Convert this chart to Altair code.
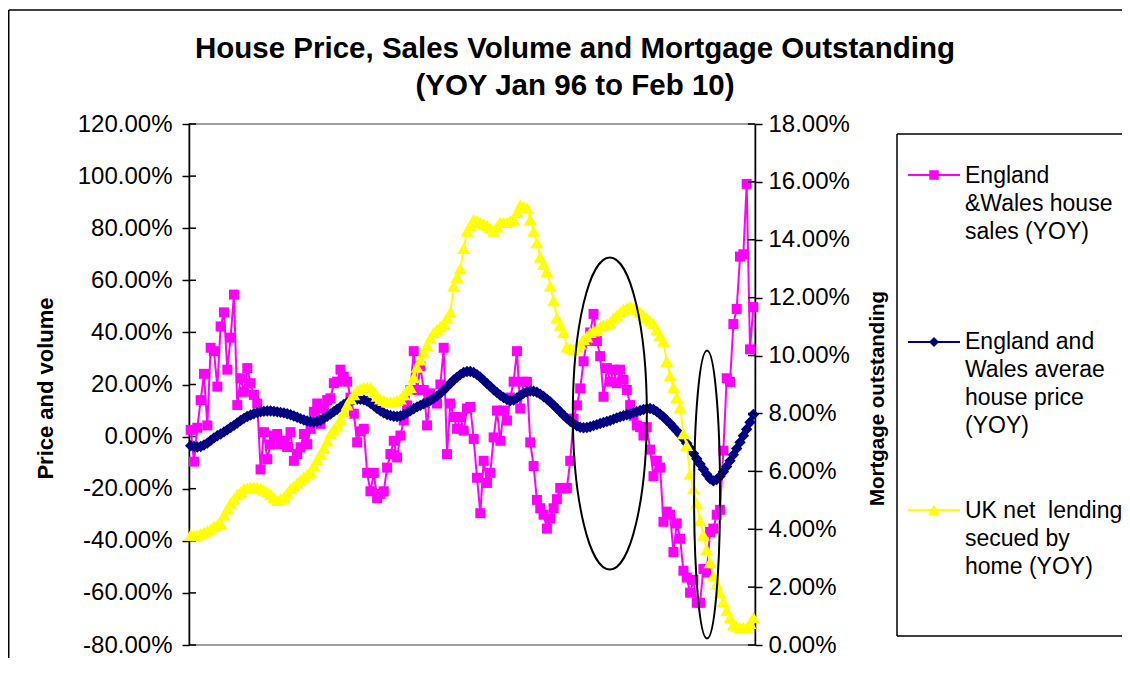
import altair as alt
import pandas as pd

# ---------------- data (% values) ----------------
SALES = [
    2.6, -9.6, 3.4, 14, 24.1, 4.3, 34.1, 32.8, 19.2, 42.3,
    47.7, 25.7, 38, 54.5, 12.1, 22.4, 17.2, 26.3, 20.5, 16,
    12.7, -12.6, 1.7, -8.7, -3, 0.4, 1.0, -2.9, -1.6, -4,
    1.7, -9.3, -6.7, -4.1, 1.0, -2.9, 3, 9.5, 12.7, 4.9,
    10.8, 14, 14.7, 20.5, 21.1, 25.7, 23, 21.1, 15, 8.8,
    -2.2, 2, 3, -13.9, -21, -13.9, -23.6, -22, -21, -11.9,
    -6.7, -1.6, -8, 0.4, 6.2, 12, 17.9, 32.8, 17.9, 27,
    17.9, 4.3, 16.6, 14, 12.7, 20, 34.1, -6.7, 12.7, 7.5,
    3, 7.5, 2.3, 10.8, 11.4, -0.9, -15.8, -29.4, -9.3, -17.8,
    -13.9, -0.3, 10, -1.6, 10, 6.2, 15, 21.1, 32.8, 10.8,
    21.1, 21, -2.2, -11.3, -24.3, -27.5, -30, -35.3, -31.4, -27.5,
    -24, -19.7, -20, -19.7, -9.3, 6.9, 12, 18.5, 28.9, 36.7,
    40, 47.1, 36.7, 30.9, 15.3, 26.3, 21.1, 25.7, 20.5, 25.7,
    21.8, 17.9, 12.1, 8, 4.3, 3.6, 0.4, 3.6, -5, -15.2,
    -9.3, -11.9, -32.7, -28.8, -30, -44.3, -33.3, -39.2, -51.5, -54.1,
    -59.9, -55, -63.8, -63.8, -50.8, -52.1, -36.6, -35.3, -30, -28.1,
    -5.4, 22.4, 21, 43.2, 49, 69.1, 70, 97, 33.5, 49.7,
]

PRICE = [
    -3.5, -3.8, -4.0, -3.8, -3.2, -2.5, -1.5, -0.5, 0.3, 1.0,
    1.8, 2.6, 3.5, 4.3, 5.2, 6.2, 7.0, 7.7, 8.3, 8.8,
    9.2, 9.5, 9.7, 9.8, 9.8, 9.7, 9.5, 9.3, 9.1, 8.8,
    8.4, 7.9, 7.4, 6.9, 6.4, 6.0, 5.7, 5.6, 5.8, 6.3,
    7.0, 7.8, 8.7, 9.6, 10.5, 11.4, 12.3, 13.1, 13.7, 14.1,
    14.3, 14.3, 14.1, 13.6, 12.8, 11.8, 10.8, 9.9, 9.1, 8.5,
    8.1, 7.8, 7.7, 7.9, 8.4, 9.1, 9.9, 10.7, 11.4, 12.0,
    12.6, 13.2, 13.9, 14.7, 15.6, 16.6, 17.8, 19.1, 20.4, 21.7,
    22.8, 23.8, 24.6, 25.0, 25.0, 24.6, 23.8, 22.8, 21.6, 20.4,
    19.2, 18.0, 16.9, 15.9, 15.0, 14.2, 13.8, 14.0, 14.8, 15.8,
    16.6, 17.2, 17.5, 17.4, 17.0, 16.3, 15.4, 14.4, 13.3, 12.1,
    10.8, 9.5, 8.2, 7.0, 5.9, 4.9, 4.1, 3.6, 3.4, 3.5,
    3.8, 4.2, 4.6, 5.0, 5.4, 5.8, 6.2, 6.7, 7.2, 7.6,
    8.0, 8.4, 8.8, 9.2, 9.6, 10.0, 10.4, 10.7, 10.8, 10.4,
    9.6, 8.6, 7.5, 6.3, 5.0, 3.6, 2.2, 0.8, -0.8, -2.6,
    -4.5, -6.5, -8.5, -10.5, -12.5, -14.5, -16.2, -17.0, -16.5, -15.2,
    -13.5, -11.5, -9.3, -7.0, -4.6, -2.2, 0.3, 2.8, 5.5, 8.5,
]

LENDING = [
    3.8, 3.8, 3.8, 3.85, 3.9, 3.95, 4.0, 4.1, 4.15, 4.2,
    4.5, 4.7, 4.9, 5.05, 5.2, 5.3, 5.4, 5.42, 5.45, 5.45,
    5.45, 5.4, 5.35, 5.3, 5.2, 5.1, 5.0, 5.05, 5.1, 5.25,
    5.4, 5.5, 5.6, 5.7, 5.8, 5.9, 6.0, 6.2, 6.4, 6.6,
    6.8, 7.05, 7.3, 7.45, 7.6, 7.8, 8.05, 8.3, 8.5, 8.65,
    8.8, 8.85, 8.9, 8.9, 8.9, 8.75, 8.6, 8.5, 8.45, 8.4,
    8.4, 8.4, 8.45, 8.5, 8.65, 8.8, 8.9, 9.25, 9.6, 9.85,
    10.1, 10.35, 10.6, 10.8, 10.9, 11.0, 11.1, 11.3, 11.5, 12.4,
    12.7, 13.0, 13.7, 14.3, 14.5, 14.7, 14.65, 14.6, 14.55, 14.5,
    14.4, 14.3, 14.45, 14.6, 14.6, 14.6, 14.65, 14.7, 14.95, 15.2,
    15.15, 15.1, 14.7, 14.3, 13.9, 13.4, 13.15, 12.9, 12.4, 11.9,
    11.3, 11.05, 10.8, 10.3, 10.25, 10.2, 10.3, 10.4, 10.55, 10.65,
    10.8, 10.85, 10.9, 11.0, 11.05, 11.1, 11.15, 11.3, 11.4, 11.5,
    11.6, 11.65, 11.7, 11.65, 11.6, 11.5, 11.4, 11.3, 11.2, 11.1,
    10.9, 10.7, 10.5, 9.8, 9.3, 8.9, 8.55, 8.2, 7.3, 6.9,
    5.9, 5.4, 4.9, 4.3, 3.8, 3.3, 2.85, 2.4, 2.1, 1.8,
    1.5, 1.2, 0.95, 0.7, 0.65, 0.6, 0.6, 0.6, 0.75, 0.95,
]

LEFT_TICKS = [-80, -60, -40, -20, 0, 20, 40, 60, 80, 100, 120]
RIGHT_TICKS = [0, 2, 4, 6, 8, 10, 12, 14, 16, 18]

TITLE = "House Price, Sales Volume and Mortgage Outstanding\n(YOY Jan 96 to Feb 10)"
LEFT_TITLE = "Price and volume"
RIGHT_TITLE = "Mortgage outstanding"
LEGEND_TEXT = [
    "England\n&Wales house\nsales (YOY)",
    "England and\nWales averae\nhouse price\n(YOY)",
    "UK net\u00a0\u00a0lending\nsecued by\nhome (YOY)",
]

# ellipse annotations: centre (month position, right-axis %), half sizes in px
ELL_X = [126.4, 155.6]
ELL_Y = [8.0, 5.2]
ELL_RX = [37, 13]
ELL_RY = [156, 144]

MAGENTA, NAVY, YELLOW = "#FF00FF", "#000080", "#FFFF00"
FONT = "Liberation Sans"

# ---------------- layout ----------------
W, H = 566, 521
PAD_L, PAD_T = 181, 116
TOTAL_W, TOTAL_H = 1114, 650
PAD_R, PAD_B = TOTAL_W - W - PAD_L, TOTAL_H - H - PAD_T
RIGHT_EDGE = TOTAL_W - PAD_L          # right border of the drawing, in plot coords
TICK = 7

N = len(SALES)
df = pd.DataFrame({
    "pos": [i + 0.5 for i in range(N)],
    "sales": [v / 100 for v in SALES],
    "price": [v / 100 for v in PRICE],
    "lending": [v / 100 for v in LENDING],
})
left_ticks_df = pd.DataFrame({"t": [v / 100 for v in LEFT_TICKS]})
right_ticks_df = pd.DataFrame({"t": [v / 100 for v in RIGHT_TICKS]})

x_enc = alt.X("pos:Q", scale=alt.Scale(domain=[0, N], nice=False, zero=False), axis=None)
y_left = alt.Scale(domain=[-0.8, 1.2], nice=False, zero=False)
y_right = alt.Scale(domain=[0, 0.18], nice=False, zero=False)

LABEL_EXPR = "replace(format(datum.value, '.2%'), '\u2212', '-')"
common_axis = dict(
    labelExpr=LABEL_EXPR, grid=False, tickSize=TICK, domainColor="black", tickColor="black",
    domainWidth=1.5, tickWidth=1.5, labelColor="black", titleColor="black",
    labelFont=FONT, titleFont=FONT, labelFontSize=24,
    titleFontWeight="bold", titleAngle=270, titleAlign="center",
    titleBaseline="middle", labelFlush=False, labelOverlap=False,
)
left_axis = alt.Axis(orient="left", values=[v / 100 for v in LEFT_TICKS],
                     title=LEFT_TITLE, labelPadding=10, titleFontSize=22,
                     titleX=45 - 189, titleY=388 - 124, **common_axis)
right_axis = alt.Axis(orient="right", values=[v / 100 for v in RIGHT_TICKS],
                      title=RIGHT_TITLE, labelPadding=6, titleFontSize=20.5,
                      titleX=877 - 755, titleY=398 - 124, **common_axis)

one = pd.DataFrame({"k": [0]})

# chart-area frame (top and left edges; the others lie outside the picture)
frame_top = alt.Chart(one).mark_rule(color="black", strokeWidth=1.5).encode(
    x=alt.value(8.75 - 189), x2=alt.value(RIGHT_EDGE), y=alt.value(10 - 124))
frame_left = alt.Chart(one).mark_rule(color="black", strokeWidth=1.5).encode(
    x=alt.value(8.75 - 189), y=alt.value(10 - 124), y2=alt.value(TOTAL_H - PAD_T))

title = alt.Chart(one).mark_text(
    text=TITLE, lineBreak="\n", font=FONT, fontSize=29.5, fontWeight="bold",
    align="center", baseline="alphabetic", lineHeight=37, color="black",
).encode(x=alt.value(575 - 189), y=alt.value(58 - 124))

# inner halves of the cross tick marks
left_inner = alt.Chart(left_ticks_df).mark_rule(color="black", strokeWidth=1.5).encode(
    x=alt.value(0), x2=alt.value(TICK), y=alt.Y("t:Q", scale=y_left, axis=left_axis))
right_inner = alt.Chart(right_ticks_df).mark_rule(color="black", strokeWidth=1.5).encode(
    x=alt.value(W - TICK), x2=alt.value(W), y=alt.Y("t:Q", scale=y_right, axis=right_axis))

sales = alt.Chart(df).mark_line(
    color=MAGENTA, strokeWidth=2,
    point=alt.OverlayMarkDef(shape="square", size=100, filled=True, color=MAGENTA, opacity=1),
).encode(x=x_enc, y=alt.Y("sales:Q", scale=y_left, axis=left_axis))

price = alt.Chart(df).mark_line(
    color=NAVY, strokeWidth=2,
    point=alt.OverlayMarkDef(shape="diamond", size=130, filled=True, color=NAVY, opacity=1),
).encode(x=x_enc, y=alt.Y("price:Q", scale=y_left, axis=left_axis))

lending = alt.Chart(df).mark_line(
    color=YELLOW, strokeWidth=2,
    point=alt.OverlayMarkDef(shape="triangle-up", size=170, filled=True, color=YELLOW, opacity=1),
).encode(x=x_enc, y=alt.Y("lending:Q", scale=y_right, axis=right_axis))


def ellipse_path(a):
    k = 0.5523
    return (f"M {-a} 0 C {-a} {-k}, {-k * a} -1, 0 -1 "
            f"C {k * a} -1, {a} {-k}, {a} 0 "
            f"C {a} {k}, {k * a} 1, 0 1 "
            f"C {-k * a} 1, {-a} {k}, {-a} 0 Z")


ellipses = []
for cx, cy, rx, ry in zip(ELL_X, ELL_Y, ELL_RX, ELL_RY):
    edf = pd.DataFrame({"pos": [cx], "cy": [cy / 100]})
    ellipses.append(
        alt.Chart(edf).mark_point(
            shape=ellipse_path(rx / ry), size=(2 * ry) ** 2, filled=False,
            stroke="black", strokeWidth=2, opacity=1,
        ).encode(x=x_enc, y=alt.Y("cy:Q", scale=y_right, axis=right_axis))
    )

# legend box (top, left, bottom edges; the right edge is beyond the picture)
LB_X0, LB_Y0, LB_Y1 = 897 - 189, 134 - 124, 636 - 124
legend_layers = [
    alt.Chart(one).mark_rule(color="black", strokeWidth=1.5).encode(
        x=alt.value(LB_X0), x2=alt.value(RIGHT_EDGE), y=alt.value(LB_Y0)),
    alt.Chart(one).mark_rule(color="black", strokeWidth=1.5).encode(
        x=alt.value(LB_X0), x2=alt.value(RIGHT_EDGE), y=alt.value(LB_Y1)),
    alt.Chart(one).mark_rule(color="black", strokeWidth=1.5).encode(
        x=alt.value(LB_X0), y=alt.value(LB_Y0), y2=alt.value(LB_Y1)),
]
LEG_SYM_Y = [175, 342, 510]
LEG_TXT_Y = [183, 349, 518]
for col, shp, sz, sy, ty, txt in zip(
        [MAGENTA, NAVY, YELLOW], ["square", "diamond", "triangle-up"], [90, 100, 150],
        LEG_SYM_Y, LEG_TXT_Y, LEGEND_TEXT):
    legend_layers.append(alt.Chart(one).mark_rule(color=col, strokeWidth=2).encode(
        x=alt.value(908 - 189), x2=alt.value(960 - 189), y=alt.value(sy - 124)))
    legend_layers.append(alt.Chart(one).mark_point(
        shape=shp, size=sz, filled=True, color=col, opacity=1).encode(
        x=alt.value(934 - 189), y=alt.value(sy - 124)))
    legend_layers.append(alt.Chart(one).mark_text(
        text=txt, lineBreak="\n", font=FONT, fontSize=23, lineHeight=28,
        align="left", baseline="alphabetic", color="black").encode(
        x=alt.value(965 - 189), y=alt.value(ty - 124)))

left_group = alt.layer(frame_top, frame_left, title, *legend_layers, left_inner, sales, price)
right_group = alt.layer(right_inner, lending, *ellipses)

chart = alt.layer(left_group, right_group).resolve_scale(y="independent").properties(
    width=W, height=H,
    padding={"left": PAD_L, "top": PAD_T, "right": PAD_R, "bottom": PAD_B},
    autosize=alt.AutoSizeParams(type="none"),
    background="white",
).configure_view(stroke="#808080", strokeWidth=1.5)

chart.save("out.html", embed_options={"renderer": "svg", "actions": False})
